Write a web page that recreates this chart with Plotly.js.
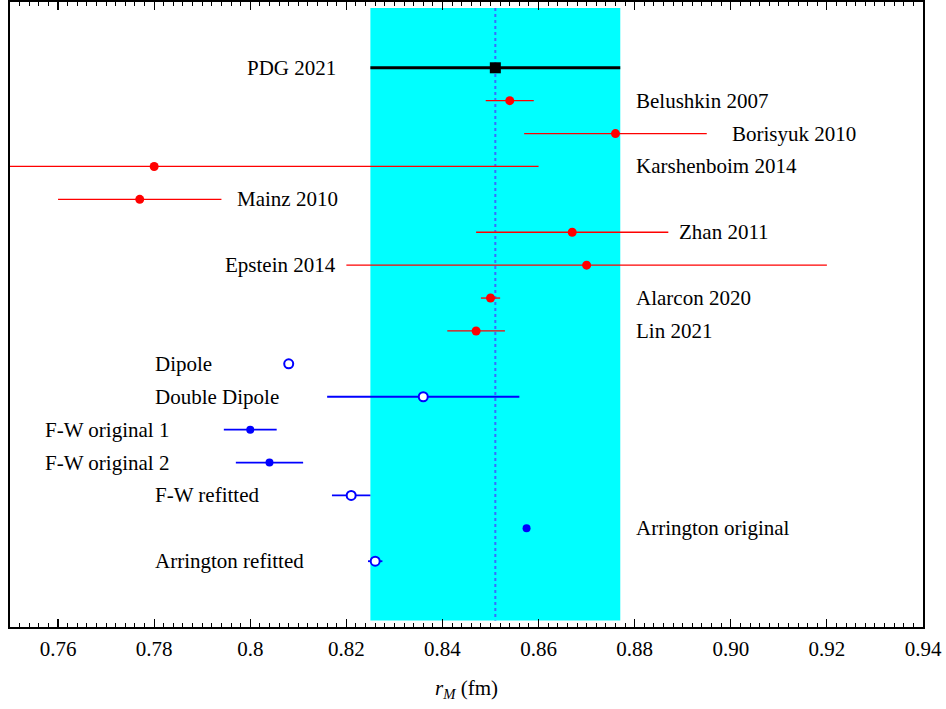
<!DOCTYPE html>
<html>
<head>
<meta charset="utf-8">
<script src="https://cdn.plot.ly/plotly-3.0.1.min.js"></script>
<style>html,body{margin:0;padding:0;background:#fff;}#chart{width:946px;height:709px;}</style>
</head>
<body>
<div id="chart"></div>
<script>
// ---- data ----
const pdgName = "PDG 2021";
const pdgValue = 0.851;
const pdgError = 0.026;

const redNames  = ["Belushkin 2007", "Borisyuk 2010", "Karshenboim 2014", "Mainz 2010", "Zhan 2011", "Epstein 2014", "Alarcon 2020", "Lin 2021"];
const redValues = [0.854, 0.876, 0.780, 0.777, 0.867, 0.870, 0.850, 0.847];
const redErrors = [0.005, 0.019, 0.080, 0.017, 0.020, 0.050, 0.002, 0.006];
const redRows   = [1, 2, 3, 4, 5, 6, 7, 8];

const blueOpenNames  = ["Dipole", "Double Dipole", "F-W refitted", "Arrington refitted"];
const blueOpenValues = [0.808, 0.836, 0.821, 0.826];
const blueOpenErrors = [0, 0.020, 0.004, 0.0015];
const blueOpenRows   = [9, 10, 13, 15];

const blueFullNames  = ["F-W original 1", "F-W original 2", "Arrington original"];
const blueFullValues = [0.800, 0.804, 0.8575];
const blueFullErrors = [0.0055, 0.007, 0];
const blueFullRows   = [11, 12, 14];

// label anchor positions (data units) and side
const labelNames  = ["PDG 2021", "Belushkin 2007", "Borisyuk 2010", "Karshenboim 2014", "Mainz 2010", "Zhan 2011", "Epstein 2014", "Alarcon 2020", "Lin 2021", "Dipole", "Double Dipole", "F-W original 1", "F-W original 2", "F-W refitted", "Arrington original", "Arrington refitted"];
const labelRows   = [0, 1, 2, 3, 4, 5, 6, 7, 8, 9, 10, 11, 12, 13, 14, 15];
const labelX      = [0.818, 0.880, 0.900, 0.880, 0.797, 0.889, 0.818, 0.880, 0.880, 0.780, 0.780, 0.757, 0.757, 0.780, 0.880, 0.780];
const labelAnchor = ["right", "left", "left", "left", "left", "left", "right", "left", "left", "left", "left", "left", "left", "left", "left", "left"];

const tickVals  = [0.76, 0.78, 0.80, 0.82, 0.84, 0.86, 0.88, 0.90, 0.92, 0.94];
const tickTexts = ["0.76", "0.78", "0.8", "0.82", "0.84", "0.86", "0.88", "0.90", "0.92", "0.94"];
const xRange = [0.75, 0.94];
const yRange = [17, -2];
const bandRows = [-1.82, 16.8];

// ---- traces ----
const FONT = "'Liberation Serif', 'Times New Roman', serif";
const traces = [];

traces.push({
  x: [pdgValue - pdgError, pdgValue + pdgError, pdgValue + pdgError, pdgValue - pdgError],
  y: [bandRows[0], bandRows[0], bandRows[1], bandRows[1]],
  fill: "toself", fillcolor: "#00ffff", mode: "lines", line: {width: 0, color: "#00ffff"},
  hoverinfo: "skip", showlegend: false
});
traces.push({
  x: [pdgValue, pdgValue], y: bandRows, mode: "lines",
  line: {color: "#3a6cff", width: 2, dash: "dot"}, hoverinfo: "skip", showlegend: false
});
traces.push({
  x: [pdgValue], y: [0], mode: "markers", name: pdgName,
  marker: {symbol: "square", size: 11, color: "#000"},
  error_x: {type: "data", array: [pdgError], color: "#000", thickness: 3, width: 0},
  showlegend: false
});
traces.push({
  x: redValues, y: redRows, mode: "markers", text: redNames,
  marker: {symbol: "circle", size: 9, color: "#ff0000"},
  error_x: {type: "data", array: redErrors, color: "#ff0000", thickness: 1.3, width: 0},
  showlegend: false
});
traces.push({
  x: blueFullValues, y: blueFullRows, mode: "markers", text: blueFullNames,
  marker: {symbol: "circle", size: 8, color: "#0000ff"},
  error_x: {type: "data", array: blueFullErrors, color: "#0000ff", thickness: 1.8, width: 0},
  showlegend: false
});
traces.push({
  x: blueOpenValues, y: blueOpenRows, mode: "markers", text: blueOpenNames,
  marker: {symbol: "circle", size: 9, color: "#ffffff", line: {color: "#0000ff", width: 2}},
  error_x: {type: "data", array: blueOpenErrors, color: "#0000ff", thickness: 1.8, width: 0},
  showlegend: false
});

const annotations = labelNames.map((t, i) => ({
  x: labelX[i], y: labelRows[i], xref: "x", yref: "y",
  text: t, showarrow: false, xanchor: labelAnchor[i], yanchor: "middle",
  borderpad: 0, font: {family: FONT, size: 21, color: "#000"}
}));

const layout = {
  width: 946, height: 709,
  margin: {l: 10, r: 23, t: 2, b: 82},
  paper_bgcolor: "#fff", plot_bgcolor: "#fff",
  showlegend: false,
  font: {family: FONT, size: 21, color: "#000"},
  xaxis: {
    range: xRange, tickmode: "array", tickvals: tickVals, ticktext: tickTexts,
    ticks: "inside", ticklen: 8, tickwidth: 1.2, tickcolor: "#000",
    minor: {tickmode: "linear", tick0: 0.75, dtick: 0.002, ticks: "inside", ticklen: 4, tickwidth: 1, tickcolor: "#000", showgrid: false},
    showline: true, linecolor: "#000", linewidth: 2, mirror: "allticks",
    showgrid: false, zeroline: false,
    tickfont: {family: FONT, size: 21, color: "#000"},
    ticklabelstandoff: 2,
    title: {text: "<i>r</i><sub><i>M</i></sub> (fm)", font: {family: FONT, size: 21, color: "#000"}, standoff: 20}
  },
  yaxis: {
    range: yRange, showticklabels: false, ticks: "", showgrid: false, zeroline: false,
    showline: true, linecolor: "#000", linewidth: 2, mirror: true
  },
  annotations: annotations
};

Plotly.newPlot("chart", traces, layout, {displayModeBar: false, staticPlot: true});
</script>
</body>
</html>
